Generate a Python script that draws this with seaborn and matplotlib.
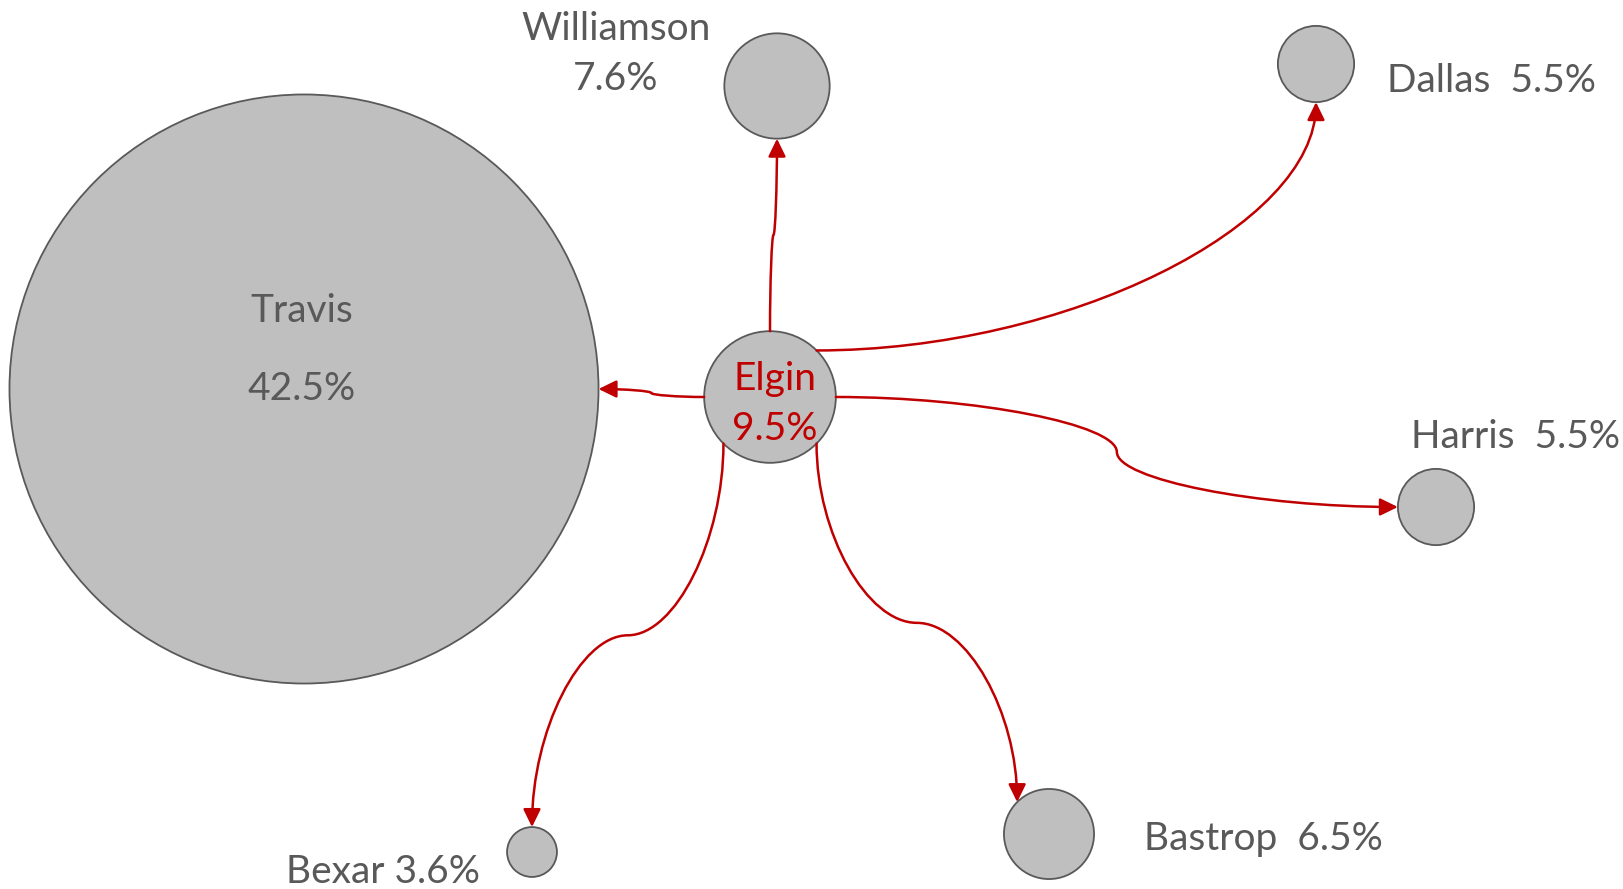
"""
Elgin flow chart: share of trips from Elgin to neighbouring counties,
drawn as bubbles (radius ~ share) with curved red connectors.
"""

import numpy as np
import pandas as pd
import seaborn as sns
import matplotlib.pyplot as plt
from matplotlib.path import Path
from matplotlib.patches import FancyArrowPatch

# ---------------------------
# Data
# ---------------------------
counties = ["Elgin", "Travis", "Williamson", "Dallas", "Harris", "Bastrop", "Bexar"]
shares = [9.5, 42.5, 7.6, 5.5, 5.5, 6.5, 3.6]
label_text = ["Elgin\n9.5%", "Travis\n\n42.5%", "Williamson\n7.6%", "Dallas  5.5%",
              "Harris  5.5%", "Bastrop  6.5%", "Bexar 3.6%"]

# ---------------------------
# Layout (canvas pixels, y pointing down)
# ---------------------------
W, H = 1624, 889
node_x = [770, 304, 777, 1316, 1436, 1049, 532]
node_y = [397, 389, 86, 64, 507, 834, 852]
PX_PER_PCT = 6.93  # bubble radius in px per percentage point

# label anchor (x, baseline y of each line), alignment
label_pos = {
    "Elgin": (775, [390, 440], "center"),
    "Travis": (302, [322, 400], "center"),
    "Williamson": (616, [40, 90], "center"),
    "Dallas": (1387, [92], "left"),
    "Harris": (1411, [448], "left"),
    "Bastrop": (1144, [850], "left"),
    "Bexar": (286, [883], "left"),
}

# connectors: target, angle on Elgin, angle on target, connector kind
edges = [
    ("Travis", 180, 0, "h3"),
    ("Williamson", 90, 270, "v3"),
    ("Dallas", 45, 270, "hv2"),
    ("Harris", 0, 180, "h3"),
    ("Bastrop", -45, 135, "v3"),
    ("Bexar", -135, 90, "v3"),
]

df = pd.DataFrame({"county": counties, "share": shares, "x": node_x, "y": node_y})
df["r"] = df["share"] * PX_PER_PCT
df["s"] = (2 * df["r"] * 0.72) ** 2  # marker area in pt^2 at 100 dpi

RED = "#C00000"
GREY_TXT = "#595959"

sns.set_style("white")
plt.rcParams["font.family"] = ["Lato", "DejaVu Sans"]

fig = plt.figure(figsize=(W / 100, H / 100), dpi=100)
ax = fig.add_axes([0, 0, 1, 1])
ax.set_xlim(0, W)
ax.set_ylim(H, 0)
ax.axis("off")

# ---------------------------
# Bubbles
# ---------------------------
sns.scatterplot(data=df, x="x", y="y", s=df["s"].values, color="#BFBFBF",
                edgecolor="#595959", linewidth=1.3, legend=False, ax=ax, zorder=2)


def anchor(name, ang):
    row = df.set_index("county").loc[name]
    a = np.deg2rad(ang)
    return row.x + row.r * np.cos(a), row.y - row.r * np.sin(a)


def connector(p0, p1, kind):
    x0, y0 = p0
    x1, y1 = p1
    if kind == "hv2":
        verts = [(x0, y0), ((x0 + x1) / 2, y0), (x1, (y0 + y1) / 2), (x1, y1)]
    elif kind == "h3":
        xm, ym = (x0 + x1) / 2, (y0 + y1) / 2
        verts = [(x0, y0), ((x0 + xm) / 2, y0), (xm, y0 + (y1 - y0) / 4), (xm, ym),
                 (xm, y0 + 3 * (y1 - y0) / 4), ((xm + x1) / 2, y1), (x1, y1)]
    else:  # v3
        xm, ym = (x0 + x1) / 2, (y0 + y1) / 2
        verts = [(x0, y0), (x0, (y0 + ym) / 2), (x0 + (x1 - x0) / 4, ym), (xm, ym),
                 (x0 + 3 * (x1 - x0) / 4, ym), (x1, (ym + y1) / 2), (x1, y1)]
    codes = [Path.MOVETO] + [Path.CURVE4] * (len(verts) - 1)
    return Path(verts, codes)


# ---------------------------
# Curved arrows from Elgin
# ---------------------------
for target, a_src, a_dst, kind in edges:
    p = connector(anchor("Elgin", a_src), anchor(target, a_dst), kind)
    arrow = FancyArrowPatch(path=p, arrowstyle="-|>,head_length=0.45,head_width=0.22",
                            mutation_scale=24, color=RED, lw=1.8, zorder=3)
    ax.add_patch(arrow)

# ---------------------------
# Labels
# ---------------------------
for name, text in zip(counties, label_text):
    x, baselines, ha = label_pos[name]
    lines = [t for t in text.split("\n") if t]
    col = RED if name == "Elgin" else GREY_TXT
    for line, yb in zip(lines, baselines):
        ax.text(x, yb, line, ha=ha, va="baseline", fontsize=28, color=col, zorder=4)

plt.savefig("out.png", dpi=100)
print("saved out.png")
